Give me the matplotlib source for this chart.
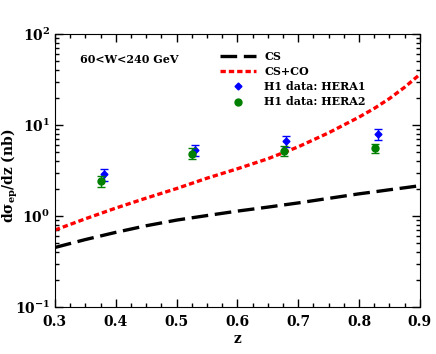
import numpy as np
import matplotlib
matplotlib.use('Agg')
from matplotlib import pyplot as plt
from matplotlib.ticker import LogLocator, MultipleLocator, NullFormatter

plt.rcParams['font.family'] = 'DejaVu Serif'
plt.rcParams['font.weight'] = 'bold'
plt.rcParams['mathtext.fontset'] = 'dejavuserif'
plt.rcParams['mathtext.default'] = 'bf'

# theory curves
z_th = [0.3, 0.35, 0.4, 0.45, 0.5, 0.55, 0.6, 0.65, 0.7, 0.75, 0.8, 0.825, 0.85, 0.875, 0.9]
cs = [0.45, 0.55, 0.66, 0.78, 0.90, 1.01, 1.13, 1.25, 1.39, 1.56, 1.75, 1.84, 1.94, 2.04, 2.15]
csco = [0.70, 0.93, 1.22, 1.57, 2.0, 2.6, 3.3, 4.25, 5.75, 8.2, 12.2, 15.2, 19.5, 26.0, 36.0]

# H1 data
z_h1 = [0.38, 0.53, 0.68, 0.831]
y_h1 = [2.9, 5.3, 6.7, 7.95]
lo_h1 = [0.5, 0.75, 1.0, 1.15]
hi_h1 = [0.4, 0.75, 0.9, 1.15]
z_h2 = [0.375, 0.526, 0.676, 0.826]
y_h2 = [2.42, 4.84, 5.2, 5.55]
lo_h2 = [0.35, 0.6, 0.6, 0.6]
hi_h2 = [0.35, 0.7, 0.7, 0.65]

fig = plt.figure(figsize=(4.36, 3.54), dpi=100)
ax = fig.add_axes([0.126, 0.133, 0.837, 0.771])

ax.plot(z_th, cs, color='black', lw=2.4, dashes=(5, 2), label='CS')
ax.plot(z_th, csco, color='red', lw=2.4, dashes=(1.6, 0.9), label='CS+CO')
ax.errorbar(z_h1, y_h1, yerr=[lo_h1, hi_h1], fmt='none', ecolor='blue',
            capsize=3, elinewidth=1)
ax.plot(z_h1, y_h1, 'D', color='blue', ms=3.5, label='H1 data: HERA1')
ax.errorbar(z_h2, y_h2, yerr=[lo_h2, hi_h2], fmt='none', ecolor='green',
            capsize=3, elinewidth=1)
ax.plot(z_h2, y_h2, 'o', color='green', ms=5, label='H1 data: HERA2')

ax.set_yscale('log')
ax.set_xlim(0.3, 0.9)
ax.set_ylim(0.1, 100)
ax.xaxis.set_major_locator(MultipleLocator(0.1))
ax.xaxis.set_minor_locator(MultipleLocator(0.025))
ax.yaxis.set_major_locator(LogLocator(base=10))
ax.yaxis.set_minor_locator(LogLocator(base=10, subs=np.arange(2, 10)))
ax.yaxis.set_minor_formatter(NullFormatter())
ax.tick_params(which='both', direction='in', top=True, right=True, labelsize=10)
ax.tick_params(which='major', length=6, width=1)
ax.tick_params(which='minor', length=3, width=1)
ax.tick_params(axis='x', pad=6)
for lab in ax.get_xticklabels() + ax.get_yticklabels():
    lab.set_fontweight('bold')

ax.set_xlabel('z', fontsize=10, fontweight='bold', labelpad=2)
ax.set_ylabel(r'd$\sigma_{\mathbf{ep}}$/dz (nb)', fontsize=10, fontweight='bold')
ax.yaxis.set_label_coords(-0.097, 0.48)
ax.text(0.068, 0.905, '60<W<240 GeV', transform=ax.transAxes, fontsize=8,
        fontweight='bold', va='center')

leg = ax.legend(loc='upper left', bbox_to_anchor=(0.425, 0.975), frameon=False,
                fontsize=8, handlelength=3.2, labelspacing=0.38, handletextpad=0.8)
for t in leg.get_texts():
    t.set_fontweight('bold')

fig.savefig('out.png', dpi=100)
